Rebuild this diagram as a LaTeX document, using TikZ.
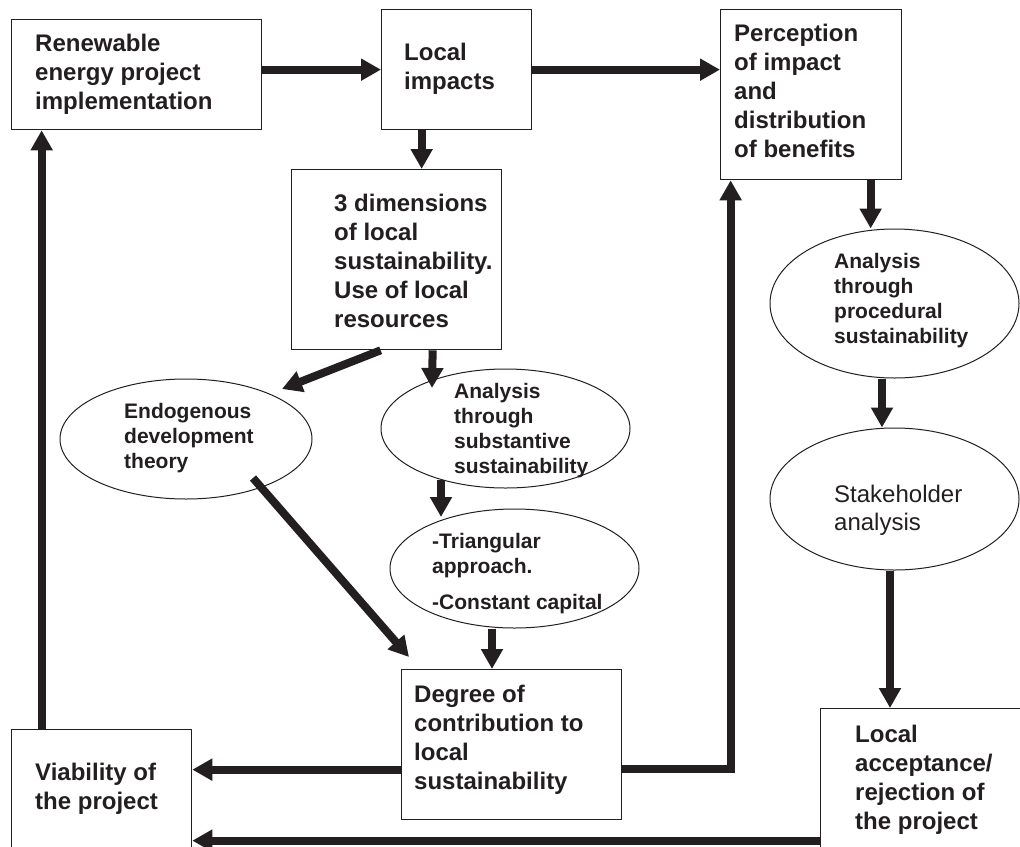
\documentclass[tikz,border=0pt]{standalone}
\usepackage{fontspec}
\setmainfont{Liberation Sans}
\usetikzlibrary{arrows.meta,shapes.geometric}
\definecolor{ink}{HTML}{231F20}
\begin{document}
\begin{tikzpicture}[x=1pt,y=-1pt,
  box/.style={draw=ink,line width=1.3pt,fill=white,rectangle,inner sep=0pt,anchor=north west},
  oval/.style={draw=ink,line width=1pt,fill=white,ellipse,inner sep=0pt},
  arr/.style={draw=ink,line width=8pt,-{Triangle[length=20pt,width=21pt]}},
  bigtxt/.style={anchor=north west,align=left,inner sep=0pt,text=ink,font=\bfseries\fontsize{24}{29}\selectfont},
  smalltxt/.style={anchor=north west,align=left,inner sep=0pt,text=ink,font=\bfseries\fontsize{21}{25}\selectfont},
  plaintxt/.style={anchor=north west,align=left,inner sep=0pt,text=ink,font=\fontsize{24}{28}\selectfont},
]
\useasboundingbox (0,0) rectangle (1020,846);
\clip (0,0) rectangle (1020,846);
\fill[white] (0,0) rectangle (1020,846);

% boxes
\node[box,minimum width=250pt,minimum height=110pt] (ren) at (11,19) {};
\node[box,minimum width=150pt,minimum height=120pt] (loc) at (381,9) {};
\node[box,minimum width=181pt,minimum height=170pt] (per) at (720,9) {};
\node[box,minimum width=210pt,minimum height=180pt] (dim) at (291,169) {};
\node[box,minimum width=220pt,minimum height=150pt] (deg) at (401,669) {};
\node[box,minimum width=180pt,minimum height=140pt] (via) at (11,729) {};
\node[box,minimum width=220pt,minimum height=160pt] (acc) at (820,708) {};

% ellipses
\node[oval,minimum width=252pt,minimum height=120pt] (endo) at (186,439) {};
\node[oval,minimum width=249pt,minimum height=119pt] (sub) at (505.5,428.5) {};
\node[oval,minimum width=249pt,minimum height=119pt] (tri) at (514.5,568.5) {};
\node[oval,minimum width=249pt,minimum height=149pt] (pro) at (894.5,303.5) {};
\node[oval,minimum width=249pt,minimum height=142pt] (sta) at (894.5,499) {};

% texts
\node[bigtxt] (tren) at (35,34) {Renewable\\energy project\\implementation};
\node[bigtxt] (tloc) at (404,43) {Local\\impacts};
\node[bigtxt] (tper) at (734,24) {Perception\\of impact\\and\\distribution\\of benefits};
\node[bigtxt] (tdim) at (334,194) {3 dimensions\\of local\\sustainability.\\Use of local\\resources};
\node[bigtxt] (tdeg) at (414,685) {Degree of\\contribution to\\local\\sustainability};
\node[bigtxt] (tvia) at (35,763) {Viability of\\the project};
\node[bigtxt] (tacc) at (855,725) {Local\\acceptance/\\rejection of\\the project};
\node[smalltxt] (tendo) at (124,403) {Endogenous\\development\\theory};
\node[smalltxt] (tsub) at (454,383) {Analysis\\through\\substantive\\sustainability};
\node[smalltxt] (ttri) at (432,533) {-Triangular\\approach.\\[11pt]-Constant capital};
\node[smalltxt] (tpro) at (834,253) {Analysis\\through\\procedural\\sustainability};
\node[plaintxt] (tsta) at (834,485) {Stakeholder\\analysis};

% connectors
\draw[arr] (ren.east |- loc.west) -- (loc.west);
\draw[arr] (loc.east) -- (loc.east -| per.west);
\draw[arr] ([xshift=-35pt]loc.south) -- ([xshift=-35pt]loc.south |- dim.north);
\draw[arr] ([xshift=-16pt]dim.south) -- ([shift={(96,-50)}]endo.center);
\draw[arr] ([xshift=36pt]dim.south) -- ([shift={(-73.5,-40.5)}]sub.center);
\draw[arr] ([shift={(67,39)}]endo.center) -- ([shift={(8,-12)}]deg.north west);
\draw[arr] ([shift={(-64.5,51.5)}]sub.center) -- ([shift={(-73.5,-51.5)}]tri.center);
\draw[arr] ([xshift=-22.5pt]tri.south) -- ([xshift=-22.5pt]tri.south |- deg.north);
\draw[arr] ([yshift=-25pt]deg.west) -- ([yshift=-25pt]deg.west -| via.east);
\draw[arr] ([yshift=-24pt]deg.east) -| ([xshift=-80.5pt]per.south);
\draw[arr] ([xshift=59.5pt]per.south) -- ([xshift=59.5pt]per.south |- pro.north);
\draw[arr] ([xshift=-12.5pt]pro.south) -- ([xshift=-12.5pt]pro.south |- sta.north);
\draw[arr] ([xshift=-4.5pt]sta.south) -- ([xshift=-4.5pt]sta.south |- acc.north);
\draw[arr] ([yshift=-52pt]acc.west) -- ([yshift=-52pt]acc.west -| via.east);
\draw[arr] ([xshift=-60pt]via.north) -- ([xshift=-60pt]via.north |- ren.south);
\end{tikzpicture}
\end{document}
